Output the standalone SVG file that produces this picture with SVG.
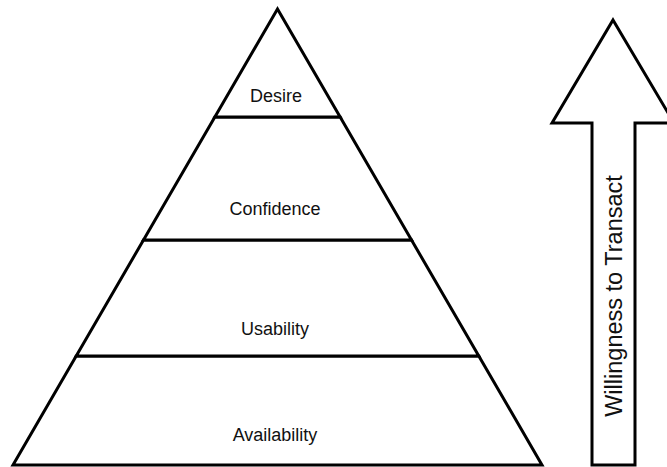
<svg xmlns="http://www.w3.org/2000/svg" width="667" height="467" viewBox="0 0 667 467">
<style>
.tier{fill:#fff;stroke:#000;stroke-width:3;stroke-linejoin:miter}
.lbl{font-family:"Liberation Sans",Arial,sans-serif;font-size:18px;fill:#111;text-anchor:middle}
.arrow{fill:#fff;stroke:#000;stroke-width:3;stroke-linejoin:miter}
.vlbl{font-family:"Liberation Sans",Arial,sans-serif;font-size:23.5px;fill:#111;text-anchor:middle}
</style>
<rect width="667" height="467" fill="#fff"/>
<g id="availability">
<polygon class="tier" points="76.2,356 478.8,356 542,465 13,465"/>
<text class="lbl" x="275" y="441">Availability</text>
</g>
<g id="usability">
<polygon class="tier" points="143.5,240 411.5,240 478.8,356 76.2,356"/>
<text class="lbl" x="275" y="335">Usability</text>
</g>
<g id="confidence">
<polygon class="tier" points="214.85,117 340.15,117 411.5,240 143.5,240"/>
<text class="lbl" x="275" y="215">Confidence</text>
</g>
<g id="desire">
<polygon class="tier" points="277.5,9 340.15,117 214.85,117"/>
<text class="lbl" x="276" y="102">Desire</text>
</g>
<g id="connectors">
<g id="arrow">
<polygon class="arrow" points="613,20 674,123 635,123 635,465 592,465 592,123 552,123"/>
<text class="vlbl" transform="translate(622,296) rotate(-90)">Willingness to Transact</text>
</g>
</g>
</svg>
